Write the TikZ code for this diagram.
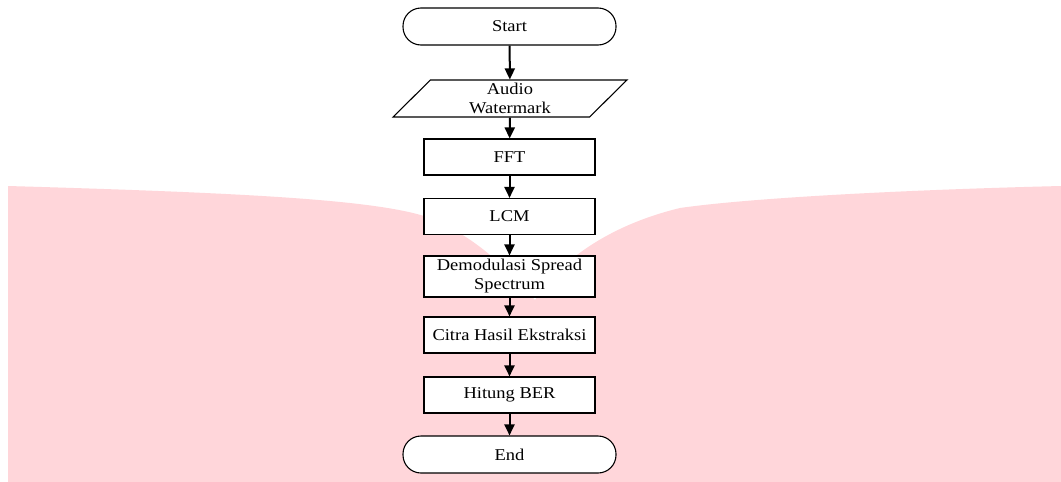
\documentclass[tikz,border=0pt]{standalone}
\usepackage{fontspec}
\setmainfont{Liberation Serif}[FakeStretch=1.12]
\usetikzlibrary{arrows.meta,shapes.geometric}
\definecolor{wmpink}{RGB}{255,214,218}
\begin{document}
\begin{tikzpicture}[x=1pt,y=-1pt,
  every node/.style={font=\fontsize{16.5}{19}\selectfont, inner sep=1pt, align=center},
  terminal/.style={draw, line width=1.1pt, fill=white, rounded corners=18pt, minimum width=213pt, minimum height=37pt},
  iobox/.style={draw, line width=1.1pt, fill=white, trapezium, trapezium left angle=59, trapezium right angle=121, trapezium stretches=true, minimum width=234pt, minimum height=37pt},
  procbox/.style={draw, line width=1.1pt, fill=white, rectangle, minimum width=171pt, minimum height=36pt},
  flow/.style={line width=2pt, -{Triangle[length=11pt,width=10pt]}}]
\useasboundingbox[fill=white] (0,0) rectangle (1061,482);
% watermark shape
\fill[wmpink] (8,186) .. controls (250,193) and (380,200) .. (430,218)
  .. controls (470,235) and (500,260) .. (535,300)
  .. controls (560,260) and (610,225) .. (680,208)
  .. controls (750,198) and (900,190) .. (1061,186)
  -- (1061,482) -- (8,482) -- cycle;
% nodes
\node[terminal] (start) at (509.5,26.5) {Start};
\node[iobox] (audio) at (510,98.5) {Audio\\Watermark};
\node[procbox] (fft) at (509.5,157) {FFT};
\node[procbox] (lcm) at (509.5,216.5) {LCM};
\node[procbox, minimum height=41pt] (demod) at (509.5,276.5) {Demodulasi Spread\\Spectrum};
\node[procbox] (citra) at (509.5,335) {Citra Hasil Ekstraksi};
\node[procbox] (ber) at (509.5,395) {Hitung BER};
\node[terminal] (end) at (509.5,454.5) {End};
% connectors
\draw[flow] (start) -- (audio);
\draw[flow] (audio) -- (fft);
\draw[flow] (fft) -- (lcm);
\draw[flow] (lcm) -- (demod);
\draw[flow] (demod) -- (citra);
\draw[flow] (citra) -- (ber);
\draw[flow] (ber) -- (end);
\end{tikzpicture}
\end{document}
